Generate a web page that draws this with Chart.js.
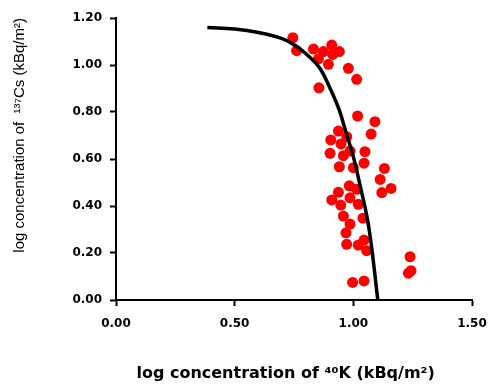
<!DOCTYPE html>
<html>
<head>
<meta charset="utf-8">
<script src="https://cdn.jsdelivr.net/npm/chart.js@4"></script>
<style>
  html, body { margin: 0; padding: 0; background: #fff; }
  #wrap { width: 488px; height: 385px; position: relative; }
</style>
</head>
<body>
<div id="wrap"><canvas id="csChart"></canvas></div>
<script>
// log 40K (x) vs log 137Cs (y), measured sites
let siteK = [0.745, 0.761, 0.832, 0.874, 0.909, 0.941, 0.913, 0.853, 0.895, 0.979,
    1.014, 0.855, 1.018, 1.091, 1.075, 0.972, 0.937, 0.905, 0.948, 0.902,
    0.958, 0.986, 1.049, 0.941, 1.000, 1.045, 1.131, 1.113, 1.159, 1.120,
    0.983, 1.014, 0.937, 0.909, 0.986, 0.947, 1.021, 0.958, 0.986, 1.040,
    0.969, 0.972, 1.045, 1.021, 1.056, 1.239, 1.232, 1.243, 0.997, 1.045];
let siteCs = [1.116, 1.061, 1.068, 1.057, 1.085, 1.057, 1.045, 1.026, 1.003, 0.986,
    0.939, 0.903, 0.783, 0.759, 0.706, 0.695, 0.719, 0.681, 0.664, 0.624,
    0.614, 0.634, 0.631, 0.567, 0.563, 0.582, 0.560, 0.513, 0.475, 0.457,
    0.486, 0.471, 0.458, 0.426, 0.435, 0.404, 0.407, 0.357, 0.323, 0.348,
    0.286, 0.237, 0.255, 0.234, 0.210, 0.184, 0.114, 0.125, 0.075, 0.081];

// fitted curve
let fitK  = [0.385, 0.50, 0.60, 0.70, 0.76, 0.82, 0.86, 0.90, 0.94, 0.97, 1.00, 1.03, 1.06, 1.08, 1.103];
let fitCs = [1.16, 1.153, 1.138, 1.112, 1.08, 1.03, 0.985, 0.905, 0.81, 0.71, 0.61, 0.48, 0.34, 0.20, 0.00];

let xTicks = [0, 0.5, 1.0, 1.5];
let yTicks = [0, 0.2, 0.4, 0.6, 0.8, 1.0, 1.2];

let sites = siteK.map((k, i) => ({ x: k, y: siteCs[i] }));
let fit = fitK.map((k, i) => ({ x: k, y: fitCs[i] }));

let tickFont = { family: "'DejaVu Sans', sans-serif", size: 12, weight: "bold" };

new Chart(document.getElementById("csChart"), {
    type: "scatter",
    data: {
        datasets: [{
            type: "line",
            data: fit,
            borderColor: "#000",
            borderWidth: 3.5,
            pointRadius: 0,
            tension: 0.4,
            fill: false,
            order: 0
        }, {
            data: sites,
            backgroundColor: "#ff0000",
            borderColor: "#ff0000",
            borderWidth: 0,
            pointRadius: 5.5,
            order: 1
        }]
    },
    options: {
        responsive: true,
        maintainAspectRatio: false,
        animation: false,
        layout: { padding: { top: 18, right: 16, left: 0, bottom: 0 } },
        plugins: { legend: { display: false }, tooltip: { enabled: false } },
        scales: {
            x: {
                type: "linear",
                min: 0,
                max: 1.5,
                afterBuildTicks: (s) => { s.ticks = xTicks.map(v => ({ value: v })); },
                afterFit: (s) => {
                    s.height = 85;
                    s.paddingLeft = 0;
                    s.paddingRight = 0;
                },
                ticks: {
                    color: "#000",
                    font: tickFont,
                    padding: 11,
                    callback: (v) => v.toFixed(2)
                },
                grid: { drawOnChartArea: false, tickLength: 6, tickWidth: 2, tickColor: "#000" },
                border: { color: "#000", width: 2 },
                title: {
                    display: true,
                    text: "log concentration of \u2074\u2070K (kBq/m\u00b2)\u00a0\u00a0\u00a0",
                    color: "#000",
                    font: { family: "'DejaVu Sans', sans-serif", size: 16, weight: "bold" },
                    padding: { top: 0, bottom: 2 }
                }
            },
            y: {
                type: "linear",
                min: 0,
                max: 1.2,
                afterBuildTicks: (s) => { s.ticks = yTicks.map(v => ({ value: v })); },
                afterFit: (s) => { s.width = 116; },
                ticks: {
                    color: "#000",
                    font: tickFont,
                    padding: 8,
                    callback: (v) => v.toFixed(2)
                },
                grid: { drawOnChartArea: false, tickLength: 6, tickWidth: 2, tickColor: "#000" },
                border: { color: "#000", width: 2 },
                title: {
                    display: true,
                    align: "end",
                    text: "log concentration of  \u00b9\u00b3\u2077Cs (kBq/m\u00b2)",
                    color: "#000",
                    font: { family: "'Liberation Sans', Arial, sans-serif", size: 15 },
                    padding: { top: 11, bottom: 0 }
                }
            }
        }
    }
});
</script>
</body>
</html>
